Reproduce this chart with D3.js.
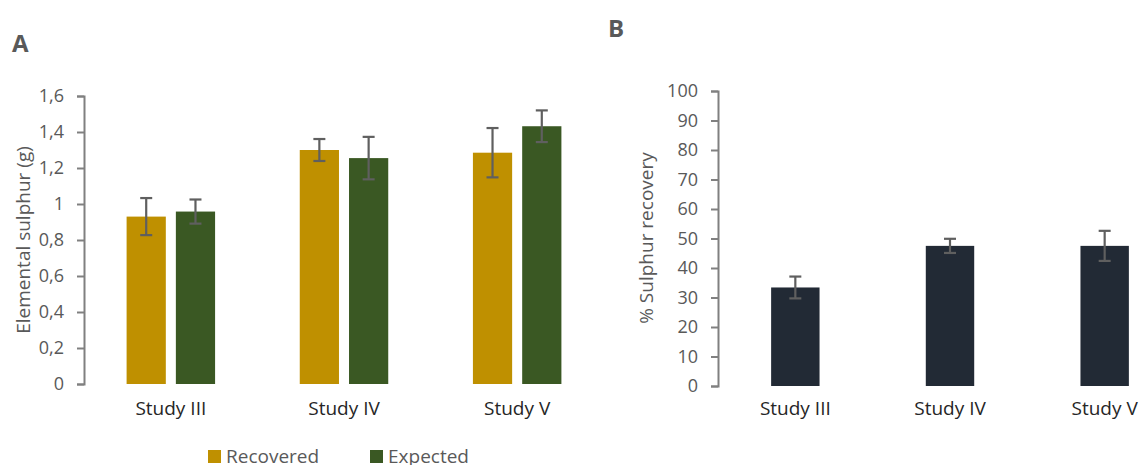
<!DOCTYPE html>
<html>
<head>
<meta charset="utf-8">
<script src="https://cdn.jsdelivr.net/npm/d3@7"></script>
<style>
  html, body { margin: 0; padding: 0; background: #fff; }
  svg { display: block; font-family: "Open Sans", sans-serif; }
</style>
</head>
<body>
<svg id="chart" width="1143" height="465"></svg>
<script>
// ---- Data ----
const studies = ["Study III", "Study IV", "Study V"];
const seriesA = ["Recovered", "Expected"];
const recovered = [0.93, 1.30, 1.285];
const recoveredErr = [0.103, 0.061, 0.137];
const expected = [0.958, 1.255, 1.432];
const expectedErr = [0.067, 0.118, 0.088];
const ticksA = [0, 0.2, 0.4, 0.6, 0.8, 1, 1.2, 1.4, 1.6];
const tickLabelsA = ["0", "0,2", "0,4", "0,6", "0,8", "1", "1,2", "1,4", "1,6"];
const recoveryPct = [33.4, 47.5, 47.5];
const recoveryPctErr = [3.7, 2.4, 5.1];
const ticksB = [0, 10, 20, 30, 40, 50, 60, 70, 80, 90, 100];

const colors = { Recovered: "#bf9000", Expected: "#3a5823" };
const navy = "#222a35";
const grey = "#595959";
const axisCol = "#808080";

const svg = d3.select("#chart");

function styleAxis(ax) {
  ax.select(".domain").attr("stroke", axisCol).attr("stroke-width", 2);
  ax.selectAll(".tick line").attr("stroke", axisCol).attr("stroke-width", 2);
  ax.selectAll(".tick text").attr("fill", grey).style("font-size", "18px").style("font-family", "Open Sans");
}

function errBars(g, data, xf, y, cap) {
  const eg = g.selectAll("g.err").data(data).join("g").attr("class", "err")
    .attr("stroke", "#5f5f5f").attr("stroke-width", 2.2);
  eg.append("line").attr("x1", xf).attr("x2", xf)
    .attr("y1", d => y(d.v + d.e)).attr("y2", d => y(d.v - d.e));
  eg.append("line").attr("x1", d => xf(d) - cap).attr("x2", d => xf(d) + cap)
    .attr("y1", d => y(d.v + d.e)).attr("y2", d => y(d.v + d.e));
  eg.append("line").attr("x1", d => xf(d) - cap).attr("x2", d => xf(d) + cap)
    .attr("y1", d => y(d.v - d.e)).attr("y2", d => y(d.v - d.e));
}

// ---------- Panel A ----------
const yA = d3.scaleLinear().domain([0, 1.6]).range([384, 96]);
const xA = d3.scaleBand().domain(studies).range([84, 604]).paddingInner(0.489).paddingOuter(0.246);
const xAin = d3.scaleBand().domain(seriesA).range([0, xA.bandwidth()]).paddingInner(0.204);

const gA = svg.append("g");
const axA = gA.append("g").attr("transform", "translate(84,0)")
  .call(d3.axisLeft(yA).tickValues(ticksA).tickFormat((d, i) => tickLabelsA[i]).tickSize(7).tickPadding(13));
styleAxis(axA);

const dataA = [];
studies.forEach((s, i) => {
  dataA.push({ study: s, series: "Recovered", v: recovered[i], e: recoveredErr[i] });
  dataA.push({ study: s, series: "Expected", v: expected[i], e: expectedErr[i] });
});

gA.selectAll("rect.bar").data(dataA).join("rect")
  .attr("class", "bar")
  .attr("x", d => xA(d.study) + xAin(d.series))
  .attr("y", d => yA(d.v))
  .attr("width", xAin.bandwidth())
  .attr("height", d => yA(0) - yA(d.v))
  .attr("fill", d => colors[d.series]);

errBars(gA.append("g"), dataA, d => xA(d.study) + xAin(d.series) + xAin.bandwidth() / 2, yA, 6);

gA.selectAll("text.xl").data(studies).join("text")
  .attr("class", "xl")
  .attr("x", d => xA(d) + xA.bandwidth() / 2)
  .attr("y", 415)
  .attr("text-anchor", "middle")
  .attr("fill", "#262626")
  .style("font-size", "19px")
  .text(d => d);

gA.append("text")
  .attr("transform", "translate(30,240) rotate(-90)")
  .attr("text-anchor", "middle")
  .attr("fill", grey)
  .style("font-size", "19px")
  .text("Elemental sulphur (g)");

gA.append("text").attr("x", 12).attr("y", 52).attr("fill", grey)
  .style("font-size", "24px").style("font-weight", "bold").text("A");

// legend
const legX = [208, 370];
const leg = gA.selectAll("g.leg").data(seriesA).join("g").attr("class", "leg")
  .attr("transform", (d, i) => `translate(${legX[i]},450)`);
leg.append("rect").attr("width", 13).attr("height", 13).attr("fill", d => colors[d]);
leg.append("text").attr("x", 18).attr("y", 13).attr("fill", grey)
  .style("font-size", "19px").text(d => d);

// ---------- Panel B ----------
const yB = d3.scaleLinear().domain([0, 100]).range([386, 91]);
const xB = d3.scaleBand().domain(studies).range([718, 1182]).paddingInner(0.687).paddingOuter(0.3435);

const gB = svg.append("g");
const axB = gB.append("g").attr("transform", "translate(718,0)")
  .call(d3.axisLeft(yB).tickValues(ticksB).tickSize(7).tickPadding(13));
styleAxis(axB);

const dataB = studies.map((s, i) => ({ study: s, v: recoveryPct[i], e: recoveryPctErr[i] }));
gB.selectAll("rect.bar").data(dataB).join("rect")
  .attr("class", "bar")
  .attr("x", d => xB(d.study))
  .attr("y", d => yB(d.v))
  .attr("width", xB.bandwidth())
  .attr("height", d => yB(0) - yB(d.v))
  .attr("fill", navy);

errBars(gB.append("g"), dataB, d => xB(d.study) + xB.bandwidth() / 2, yB, 6);

gB.selectAll("text.xl").data(studies).join("text")
  .attr("class", "xl")
  .attr("x", d => xB(d) + xB.bandwidth() / 2)
  .attr("y", 415)
  .attr("text-anchor", "middle")
  .attr("fill", "#262626")
  .style("font-size", "19px")
  .text(d => d);

gB.append("text")
  .attr("transform", "translate(653,238) rotate(-90)")
  .attr("text-anchor", "middle")
  .attr("fill", grey)
  .style("font-size", "19px")
  .text("% Sulphur recovery");

gB.append("text").attr("x", 608).attr("y", 37).attr("fill", grey)
  .style("font-size", "24px").style("font-weight", "bold").text("B");
</script>
</body>
</html>
